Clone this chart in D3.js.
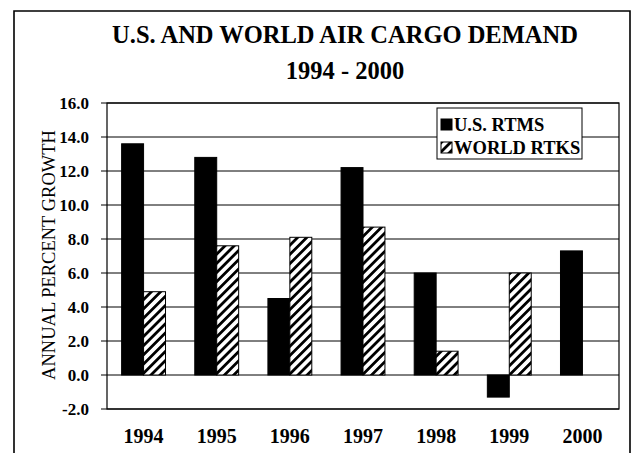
<!DOCTYPE html>
<html>
<head>
<meta charset="utf-8">
<style>
html, body { margin: 0; padding: 0; background: #fff; }
text { font-family: "Liberation Serif", "Times New Roman", serif; fill: #000; }
</style>
<script src="https://cdn.jsdelivr.net/npm/d3@7"></script>
</head>
<body>
<script>
// chart data
var years = ["1994", "1995", "1996", "1997", "1998", "1999", "2000"];
var seriesNames = ["U.S. RTMS", "WORLD RTKS"];
var usRtms = [13.6, 12.8, 4.5, 12.2, 6.0, -1.3, 7.3];
var worldRtks = [4.9, 7.6, 8.1, 8.7, 1.4, 6.0, null];
var yTicks = [-2, 0, 2, 4, 6, 8, 10, 12, 14, 16];

var W = 633, H = 453;
// plot edges (window.top is reserved, so use other names)
var plotL = 107, plotR = 619, plotT = 103, plotB = 409;

var svg = d3.select("body").append("svg")
  .attr("width", W)
  .attr("height", H);

var defs = svg.append("defs");
var pat = defs.append("pattern")
  .attr("id", "hatch")
  .attr("patternUnits", "userSpaceOnUse")
  .attr("width", 6.5)
  .attr("height", 6.5)
  .attr("patternTransform", "rotate(45)");
pat.append("rect").attr("width", 6.5).attr("height", 6.5).attr("fill", "#fff");
pat.append("rect").attr("x", 0).attr("width", 2.8).attr("height", 6.5).attr("fill", "#000");

// outer frame (open at the bottom)
svg.append("path")
  .attr("d", "M14,460 L14,11 L630,11 L630,460")
  .attr("fill", "none")
  .attr("stroke", "#000")
  .attr("stroke-width", 1.6);

// titles
svg.append("text")
  .attr("x", 345).attr("y", 43)
  .attr("text-anchor", "middle")
  .style("font-size", "24.5px").style("font-weight", "bold")
  .text("U.S. AND WORLD AIR CARGO DEMAND");
svg.append("text")
  .attr("x", 345).attr("y", 79)
  .attr("text-anchor", "middle")
  .style("font-size", "24.5px").style("font-weight", "bold")
  .text("1994 - 2000");

var y = d3.scaleLinear().domain([-2, 16]).range([plotB, plotT]);
var x = d3.scaleBand().domain(years).range([plotL, plotR])
  .paddingInner(0.4).paddingOuter(0.2);
var xs = d3.scaleBand().domain(seriesNames).range([0, x.bandwidth()]);

// grid lines
svg.append("g").selectAll("line")
  .data(yTicks)
  .enter().append("line")
  .attr("x1", plotL - 6).attr("x2", plotR)
  .attr("y1", function(d) { return y(d); })
  .attr("y2", function(d) { return y(d); })
  .attr("stroke", "#000")
  .attr("stroke-width", 1);

// plot border
svg.append("rect")
  .attr("x", plotL).attr("y", plotT)
  .attr("width", plotR - plotL).attr("height", plotB - plotT)
  .attr("fill", "none").attr("stroke", "#000").attr("stroke-width", 1.2);

// y axis labels (plain hyphen for the minus, like the original)
var yAxis = d3.axisLeft(y).tickValues(yTicks).tickSize(0).tickPadding(18)
  .tickFormat(function(d) { return d.toFixed(1); });
var ga = svg.append("g").attr("transform", "translate(" + plotL + ",0)").call(yAxis);
ga.attr("font-size", 17).attr("font-weight", "bold")
  .attr("font-family", "Liberation Serif");
ga.select(".domain").remove();
ga.selectAll(".tick text")
  .attr("font-size", 17)
  .style("font-size", "17px")
  .style("font-weight", "bold");

svg.append("text")
  .attr("transform", "translate(55,255) rotate(-90)")
  .attr("text-anchor", "middle")
  .style("font-size", "18.5px")
  .text("ANNUAL PERCENT GROWTH");

// x axis labels
svg.append("g").selectAll("text")
  .data(years)
  .enter().append("text")
  .attr("x", function(d) { return x(d) + x.bandwidth() / 2; })
  .attr("y", 443)
  .attr("text-anchor", "middle")
  .style("font-size", "20px").style("font-weight", "bold")
  .text(function(d) { return d; });

// bars
var rows = [];
years.forEach(function(yr, i) {
  rows.push({ year: yr, s: seriesNames[0], v: usRtms[i] });
  rows.push({ year: yr, s: seriesNames[1], v: worldRtks[i] });
});
svg.append("g").selectAll("rect")
  .data(rows.filter(function(d) { return d.v !== null; }))
  .enter().append("rect")
  .attr("x", function(d) { return x(d.year) + xs(d.s); })
  .attr("width", xs.bandwidth())
  .attr("y", function(d) { return y(Math.max(0, d.v)); })
  .attr("height", function(d) { return Math.abs(y(d.v) - y(0)); })
  .attr("fill", function(d) { return d.s === seriesNames[0] ? "#000" : "url(#hatch)"; })
  .attr("stroke", "#000")
  .attr("stroke-width", 1);

// legend
var lg = svg.append("g").attr("transform", "translate(437,108)");
lg.append("rect").attr("width", 145).attr("height", 51)
  .attr("fill", "#fff").attr("stroke", "#000").attr("stroke-width", 1);
seriesNames.forEach(function(name, i) {
  lg.append("rect")
    .attr("x", 4).attr("y", 11 + i * 23)
    .attr("width", 11).attr("height", 11)
    .attr("fill", i === 0 ? "#000" : "url(#hatch)")
    .attr("stroke", "#000");
  lg.append("text")
    .attr("x", 17).attr("y", 22.5 + i * 23)
    .style("font-size", "18.5px").style("font-weight", "bold")
    .text(name);
});
</script>
</body>
</html>
